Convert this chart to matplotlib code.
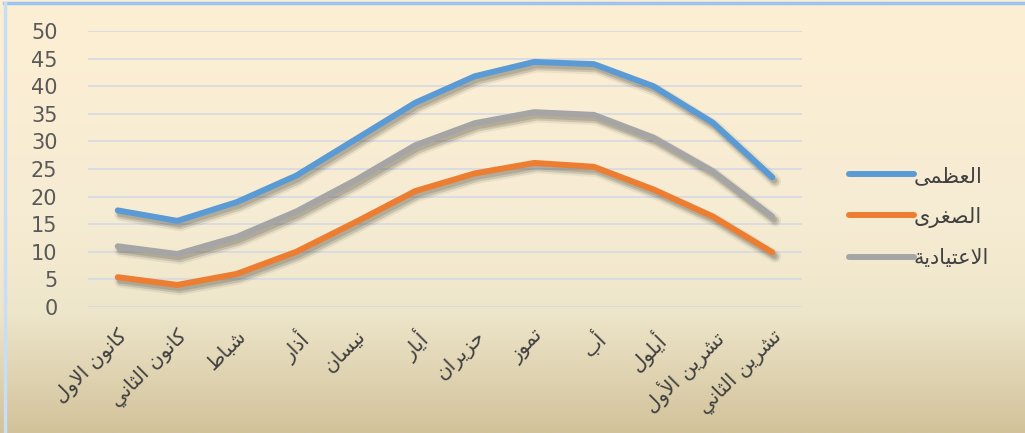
import numpy as np
import matplotlib
matplotlib.use("Agg")
import matplotlib.pyplot as plt
import matplotlib.patheffects as pe
from matplotlib.colors import LinearSegmentedColormap

# ---------------------------------------------------------------- data
months = ["كانون الاول", "كانون الثاني", "شباط", "أذار", "نيسان", "أيار",
          "حزيران", "تموز", "أب", "أيلول", "تشرين الأول", "تشرين الثاني"]
series_names = ["العظمى", "الصغرى", "الاعتيادية"]
t_max = [17.5, 15.6, 19.0, 23.8, 30.4, 37.0, 41.8, 44.4, 44.0, 40.0, 33.4, 23.5]
t_min = [5.4, 4.0, 6.0, 10.0, 15.4, 21.0, 24.2, 26.1, 25.4, 21.3, 16.4, 9.9]
t_avg = [11.0, 9.6, 12.7, 17.3, 23.0, 29.3, 33.3, 35.3, 34.8, 30.7, 24.6, 16.4]
y_ticks = [0, 5, 10, 15, 20, 25, 30, 35, 40, 45, 50]
colors = ["#5B9BD5", "#ED7D31", "#A5A5A5"]

# ------------------------------------------------- arabic shaping helper
DUAL_BASE = {'ئ': 0xFE89, 'ب': 0xFE8F, 'ت': 0xFE95, 'ث': 0xFE99, 'ج': 0xFE9D,
             'ح': 0xFEA1, 'خ': 0xFEA5, 'س': 0xFEB1, 'ش': 0xFEB5, 'ص': 0xFEB9,
             'ض': 0xFEBD, 'ط': 0xFEC1, 'ظ': 0xFEC5, 'ع': 0xFEC9, 'غ': 0xFECD,
             'ف': 0xFED1, 'ق': 0xFED5, 'ك': 0xFED9, 'ل': 0xFEDD, 'م': 0xFEE1,
             'ن': 0xFEE5, 'ه': 0xFEE9, 'ي': 0xFEF1}
RIGHT_BASE = {'آ': 0xFE81, 'أ': 0xFE83, 'ؤ': 0xFE85, 'إ': 0xFE87, 'ا': 0xFE8D,
              'ة': 0xFE93, 'د': 0xFEA9, 'ذ': 0xFEAB, 'ر': 0xFEAD, 'ز': 0xFEAF,
              'و': 0xFEED, 'ى': 0xFEEF}
LAM_ALEF = {'آ': 0xFEF5, 'أ': 0xFEF7, 'إ': 0xFEF9, 'ا': 0xFEFB}


def shape(text):
    """Contextual forms + visual (left-to-right) order for Arabic text."""
    out = []
    n = len(text)
    i = 0
    while i < n:
        c = text[i]
        prev = text[i - 1] if i > 0 else None
        if c == 'ل' and i + 1 < n and text[i + 1] in LAM_ALEF:
            code = LAM_ALEF[text[i + 1]] + (1 if prev in DUAL_BASE else 0)
            out.append(chr(code))
            i += 2
            continue
        nxt = text[i + 1] if i + 1 < n else None
        joins_prev = prev in DUAL_BASE
        if c in DUAL_BASE:
            b = DUAL_BASE[c]
            joins_next = nxt is not None and (nxt in DUAL_BASE or nxt in RIGHT_BASE)
            if joins_prev and joins_next:
                out.append(chr(b + 3))
            elif joins_prev:
                out.append(chr(b + 1))
            elif joins_next:
                out.append(chr(b + 2))
            else:
                out.append(chr(b))
        elif c in RIGHT_BASE:
            out.append(chr(RIGHT_BASE[c] + (1 if joins_prev else 0)))
        else:
            out.append(c)
        i += 1
    return ''.join(reversed(out))


# ---------------------------------------------------------------- figure
W, H = 1025, 433
fig = plt.figure(figsize=(W / 100, H / 100), dpi=100)

# warm vertical gradient behind everything
bg = fig.add_axes([0, 0, 1, 1], zorder=-10)
grad = np.linspace(0, 1, 256).reshape(-1, 1)
cmap = LinearSegmentedColormap.from_list(
    "bg", [(0.0, "#FDEFD3"), (0.5, "#F6ECD3"), (0.72, "#EEE6CB"), (1.0, "#D2C29A")])
bg.imshow(grad, aspect="auto", cmap=cmap, extent=[0, 1, 0, 1], origin="upper")
bg.set_xlim(0, 1)
bg.set_ylim(0, 1)
bg.axis("off")
bg.add_line(plt.Line2D([0.004, 1], [0.993, 0.993], color="#9DC3F0", lw=2.5,
                       transform=bg.transAxes))
bg.add_line(plt.Line2D([0.005, 0.005], [0, 0.993], color="#C9DDF5", lw=2.5,
                       transform=bg.transAxes))

left, right = 88 / W, 802 / W
bottom, top = (H - 307) / H, (H - 31) / H
ax = fig.add_axes([left, bottom, right - left, top - bottom])
ax.set_facecolor("none")

x = np.arange(len(months))
shadow = [pe.SimpleLineShadow(offset=(2, -3), shadow_color="#000000", alpha=0.06, linewidth=9),
          pe.SimpleLineShadow(offset=(2, -3), shadow_color="#000000", alpha=0.12, linewidth=6),
          pe.SimpleLineShadow(offset=(1.5, -2.5), shadow_color="#000000", alpha=0.12, linewidth=4),
          pe.Normal()]

for vals, col, name in zip([t_max, t_min, t_avg], colors, series_names):
    ax.plot(x, vals, color=col, lw=4.3, solid_capstyle="round", solid_joinstyle="round",
            label=shape(name), path_effects=shadow, zorder=3)

ax.set_xlim(-0.5, len(months) - 0.5)
ax.set_ylim(0, 50)
ax.set_yticks(y_ticks)
ax.set_yticklabels([str(v) for v in y_ticks], fontsize=15, color="#595959")
ax.set_xticks(x)
ax.set_xticklabels([shape(m) for m in months], rotation=45, ha="right",
                   rotation_mode="anchor", fontsize=14.5, color="#404040",
                   family="DejaVu Sans")
ax.tick_params(axis="both", length=0)
ax.tick_params(axis="y", pad=22)
ax.tick_params(axis="x", pad=14)
ax.grid(axis="y", color="#D5D9E3", lw=1.2, zorder=0)
for s in ax.spines.values():
    s.set_visible(False)

leg = ax.legend(loc="center left", bbox_to_anchor=(1.04, 0.326), frameon=False,
                fontsize=15, handlelength=3.1, handletextpad=0.0,
                labelspacing=1.0, labelcolor="#404040")
for h in leg.get_lines():
    h.set_linewidth(4.3)
    h.set_solid_capstyle("round")
    h.set_path_effects([])

fig.savefig("out.png", dpi=100)
